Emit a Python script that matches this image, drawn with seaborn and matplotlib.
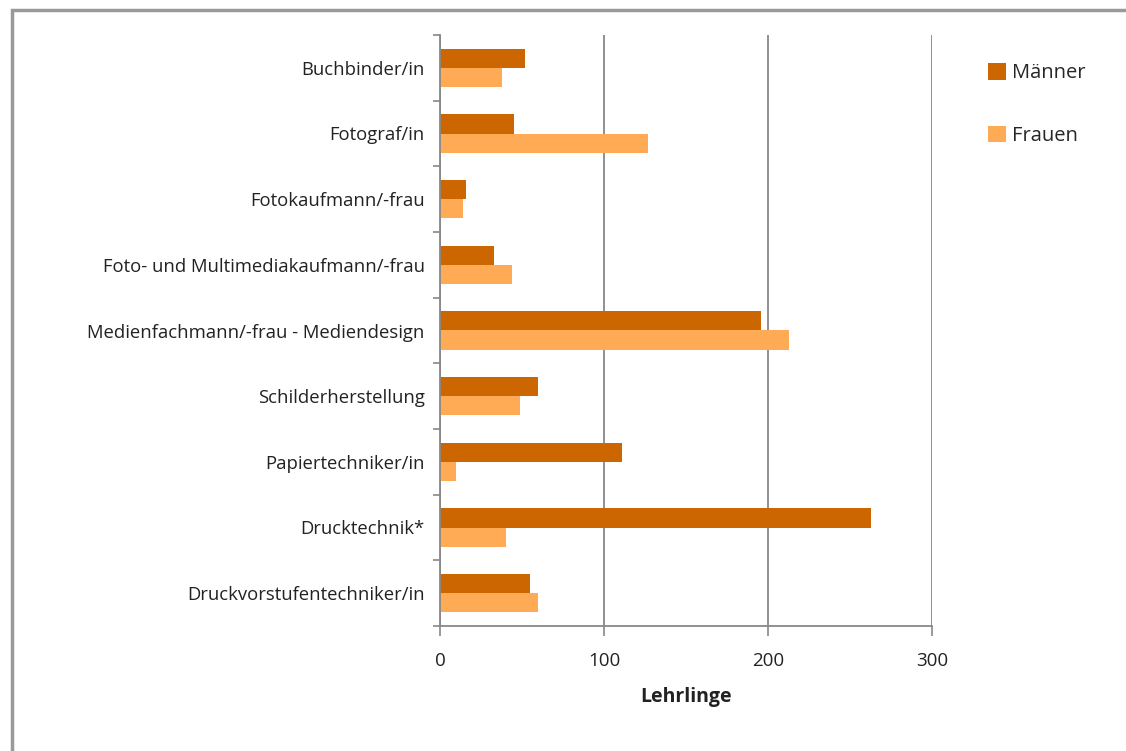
import pandas as pd
import numpy as np
import matplotlib.pyplot as plt
import seaborn as sns
from matplotlib.patches import Rectangle

# Werte
berufe = [
    'Buchbinder/in',
    'Fotograf/in',
    'Fotokaufmann/-frau',
    'Foto- und Multimediakaufmann/-frau',
    'Medienfachmann/-frau - Mediendesign',
    'Schilderherstellung',
    'Papiertechniker/in',
    'Drucktechnik*',
    'Druckvorstufentechniker/in',
]
maenner = [52, 45, 16, 33, 196, 60, 111, 263, 55]
frauen = [38, 127, 14, 44, 213, 49, 10, 40, 60]
x_ticks = [0, 100, 200, 300]

farben = {'Männer': '#CC6600', 'Frauen': '#FFAA55'}

df = pd.DataFrame({'Beruf': berufe, 'Männer': maenner, 'Frauen': frauen})
df = df.melt(id_vars='Beruf', var_name='Geschlecht', value_name='Lehrlinge')

sns.set_style('white')
plt.rcParams['font.family'] = ['Open Sans', 'DejaVu Sans']

fig = plt.figure(figsize=(11.26, 7.51), dpi=100)
ax = fig.add_axes([440 / 1126, 1 - 626 / 751, 492 / 1126, 591 / 751])

sns.barplot(data=df, y='Beruf', x='Lehrlinge', hue='Geschlecht', orient='h',
            palette=farben, width=0.58, ax=ax, linewidth=0, saturation=1)

ax.set_xlim(0, 300)
ax.set_ylim(len(berufe) - 0.5, -0.5)
ax.set_xticks(x_ticks)
ax.set_xticklabels([str(t) for t in x_ticks], fontsize=13.5, color='#222222')
ax.tick_params(axis='x', bottom=True, length=7, width=1.2, color='#888888', pad=12)

# Kategorie-Ticks zwischen den Gruppen (Excel-Stil)
ax.set_yticks(range(len(berufe)))
ax.set_yticklabels(berufe, fontsize=13.3, color='#222222')
ax.tick_params(axis='y', which='major', left=False, length=0, pad=11)
ax.set_yticks(np.arange(-0.5, len(berufe), 1), minor=True)
ax.tick_params(axis='y', which='minor', left=True, length=5, width=1.2, color='#888888')

ax.xaxis.grid(True, color='#888888', linewidth=1.3)
ax.yaxis.grid(False)
ax.set_axisbelow(True)
for side in ['top', 'right']:
    ax.spines[side].set_visible(False)
for side in ['left', 'bottom']:
    ax.spines[side].set_color('#888888')
    ax.spines[side].set_linewidth(1.3)

ax.set_ylabel('')
ax.set_xlabel('Lehrlinge', fontsize=14, fontweight='bold', color='#222222', labelpad=12)

handles, labels = ax.get_legend_handles_labels()
ax.legend(handles, labels, loc='upper left', bbox_to_anchor=(970 / 1126, 1 - 45 / 751),
          bbox_transform=fig.transFigure, frameon=False, fontsize=14.5,
          handlelength=0.9, handleheight=0.9, handletextpad=0.3, labelspacing=2.1)

# grauer Diagrammrahmen
fig.patches.append(Rectangle((12 / 1126, -0.1), 1.2, 1 - 10 / 751 + 0.1,
                             transform=fig.transFigure, fill=False,
                             edgecolor='#999999', linewidth=2.5))

fig.savefig('out.png', dpi=100)
